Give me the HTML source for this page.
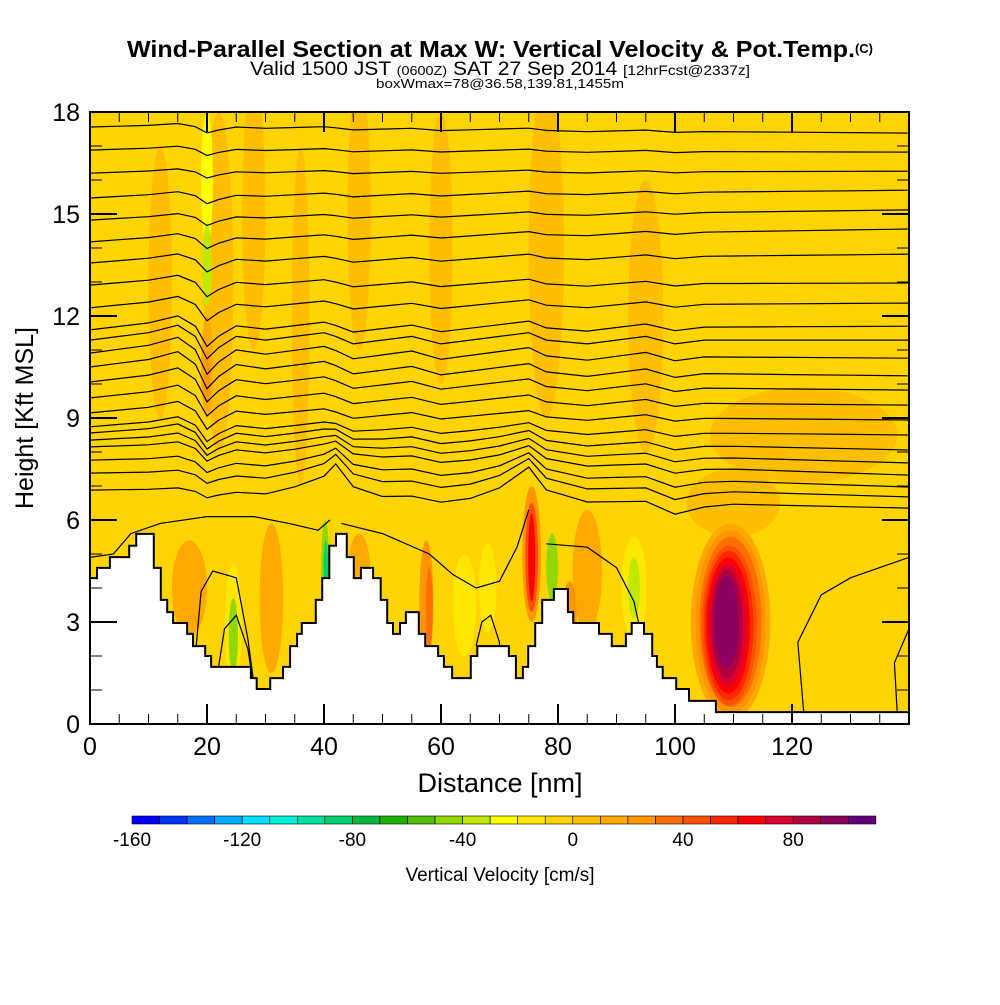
<!DOCTYPE html>
<html><head><meta charset="utf-8">
<style>
html,body{margin:0;padding:0;background:#fff;}
body{width:1000px;height:1000px;overflow:hidden;font-family:"Liberation Sans",sans-serif;}
svg text{font-family:"Liberation Sans",sans-serif;}
</style></head>
<body>
<svg id="chart" width="1000" height="1000" viewBox="0 0 1000 1000">
<g>
<text x="127" y="57" font-size="23" font-weight="bold" textLength="728" lengthAdjust="spacingAndGlyphs">Wind-Parallel Section at Max W: Vertical Velocity &amp; Pot.Temp.</text>
<text x="864" y="53" text-anchor="middle" font-size="13" font-weight="bold">(C)</text>
<text x="250" y="75" font-size="19" textLength="500" lengthAdjust="spacingAndGlyphs">Valid 1500 JST <tspan font-size="13">(0600Z)</tspan> SAT 27 Sep 2014 <tspan font-size="14">[12hrFcst@2337z]</tspan></text>
<text x="376" y="88" font-size="13" textLength="248" lengthAdjust="spacingAndGlyphs">boxWmax=78@36.58,139.81,1455m</text>
</g>
<defs><clipPath id="plotclip"><rect x="90" y="112" width="819" height="612"/></clipPath></defs>
<g id="plot" clip-path="url(#plotclip)"></g>
<g id="axes"></g>
<g id="cbar"></g>
</svg>
<script>
const NS="http://www.w3.org/2000/svg";
// ---- data ----
const xMin=0,xMax=140,yMin=0,yMax=18;
const xTicks=[0,20,40,60,80,100,120];
const yTicks=[0,3,6,9,12,15,18];
const cbLevels=[-160,-150,-140,-130,-120,-110,-100,-90,-80,-70,-60,-50,-40,-30,-20,-10,0,10,20,30,40,50,60,70,80,90,100,110];
const cbColors=["#0000ff","#0034ff","#0070ff","#00aaff","#00e0ff","#00f0d8","#00e0a0","#00d070","#00b840","#20b000","#50c000","#90d800","#c0e800","#ffff00","#ffe800","#ffd400","#ffbe00","#ffa800","#ff9600","#ff6e00","#ff5000","#ff2800","#ff0000","#dc0030","#b00040","#8c0060","#640080"];
const cbTickLabels=[-160,-120,-80,-40,0,40,80];
const bgValue=-5;
// terrain steps: start distance (nm), height (kft)
const terrX=[0,1.2,3.4,6.7,7.9,10.9,12.1,13.2,14.2,16.6,17.6,19.7,20.7,27.5,28.5,30.8,33.0,34.2,35.4,36.2,38.6,39.7,40.9,42.05,43.9,45.1,46.3,48.4,49.7,50.8,51.8,53.0,54.0,56.2,57.3,59.5,60.5,61.9,65.1,66.2,70.1,71.6,72.8,74.0,74.9,76.1,77.3,79.3,81.7,82.6,87.0,89.2,91.6,92.6,94.7,96.1,96.9,97.9,100.2,102.4,107.0];
const terrH=[4.29,4.59,4.91,5.24,5.59,4.59,3.65,3.29,2.97,2.65,2.29,2.0,1.68,1.35,1.03,1.35,1.68,2.29,2.65,2.97,3.65,4.29,5.24,5.59,4.91,4.29,4.59,4.29,3.65,2.97,2.65,2.97,3.29,2.65,2.29,2.0,1.68,1.35,2.0,2.29,2.29,2.0,1.35,1.68,2.29,2.97,3.65,3.97,3.29,2.97,2.65,2.29,2.65,2.97,2.65,2.0,1.68,1.35,1.03,0.68,0.35];
// potential temperature contours
const thNodes=[0,5,10,15,18,20,22,25,30,35,40,42,45,50,55,60,65,70,75,78,85,90,95,100,105,110,120,130,140];
const thDip=[0,0.1,0.2,0.4,0.1,-0.5,-0.2,0.1,0,0.1,0.2,0.1,-0.1,0,0.1,-0.1,0,0.1,0.2,0,-0.1,0,0.1,-0.1,0,0,0,0,0];
const thBump=[0,0,0,0,0,0,0,0,0,0.2,0.5,0.9,0.3,0,0,-0.1,0,0.3,0.9,0.3,0,0,0,-0.3,-0.1,0,0,0,0];
const thLeft=[17.56,16.88,16.2,15.47,14.82,14.18,13.56,12.91,12.24,11.59,11.29,10.91,10.5,10.06,9.59,9.15,8.74,8.56,8.35,8.15,7.76,7.38,6.88];
const thRight=[17.38,16.82,16.26,15.7,15.12,14.56,13.82,12.97,12.38,11.7,11.29,10.76,10.24,9.82,9.38,8.94,8.5,8.06,7.68,7.32,6.97,6.68,6.35];
const thDipAmp=[0.3,0.3,0.3,0.4,0.4,0.5,0.6,0.7,0.8,1,1.1,1.2,1.2,1.1,1,0.9,0.8,0.8,0.7,0.6,0.5,0.4,0.3];
const thBumpAmp=[0,0,0,0,0,0,0,0,0,0,0,0,0,0,0,0,0.1,0.2,0.3,0.4,0.6,0.8,1];
// lower contour fragments [nm,kft]
const lowCurves=[
 [[0,4.9],[4,5.0],[7,5.6],[12,5.9],[20,6.1],[28,6.1],[34,5.9],[39,5.7],[41,6.0]],
 [[18,2.0],[19,3.9],[21,4.5],[25,4.3],[27,2.5],[28,1.2]],
 [[22,1.7],[23,2.8],[25,3.2],[27,2.2],[28,1.1]],
 [[43,5.9],[50,5.6],[58,5.0],[62,4.4],[66,4.0],[70,4.2],[73,5.2],[75,6.3]],
 [[66,2.3],[67,3.0],[68.5,3.2],[70,2.4],[70,1.5]],
 [[78,5.3],[85,5.2],[90,4.6],[93,3.6],[94,2.8]],
 [[122,0.35],[121,2.4],[125,3.8],[130,4.3],[140,4.9]],
 [[138,0.3],[137.5,1.8],[140,2.8]]
];
// w blobs: [cx nm, cy kft, rx nm, ry kft, w cm/s]
const blobs=[
 [22,13,2.5,5,5],[28,15,2,4,5],[12,13,2,4,5],[46,15,2,4,5],[60,14,2,4,5],[36,12,1.5,5,5],
 [78,14,3,5,5],[95,12,3,4,5],[122,8.5,16,1.4,5],[110,6.5,8,1.0,5],[20,16,1,2,-25],[20,13.5,0.8,1.2,-35],
 [20,10.5,1,1.5,15],[20,10.2,0.6,0.8,25],[17,4,3,1.4,15],[31,3.7,2,2.2,15],[46,4.3,2,1.3,15],
 [57.5,3.6,1.2,1.8,20],[58,3.4,0.6,1.2,35],[64,3.5,2,1.5,-20],[24.5,2.9,1.5,1.8,-20],[24.5,2.6,0.8,1.1,-50],
 [40.2,4.5,0.7,1.5,-50],[40.3,4.4,0.4,1.0,-90],
 [85,4.5,2.5,1.8,15],[82,3.2,1.2,1,25],[93,4,2.2,1.5,-20],[93,4,1,0.9,-40],[79,4.6,1,1,-45],[68,4,1.5,1.3,-15],
 [75.5,5.0,1.6,2.0,25],[75.5,4.9,1.1,1.6,45],[75.5,4.9,0.6,1.3,60],
 [109.5,3.0,6.8,2.9,15],[109.5,3.0,6.0,2.7,25],[109.5,3.0,5.3,2.5,35],[109.3,2.9,4.7,2.35,45],[109.2,2.9,4.2,2.2,55],[109.1,2.9,3.7,2.0,65],[109,2.9,3.2,1.8,75],[108.9,2.95,2.7,1.6,85],[108.8,3.0,2.1,1.35,95]
];
// ---- axes functions ----
const PX0=90,PX1=909,PY0=724,PY1=112;
const X=v=>PX0+(v-xMin)*5.85;
const Y=v=>PY0-(v-yMin)/(yMax-yMin)*(PY0-PY1);
function colorFor(w){for(let i=0;i<cbColors.length;i++){if(w>=cbLevels[i]&&w<cbLevels[i+1])return cbColors[i];}return w<0?cbColors[0]:cbColors[cbColors.length-1];}
function mk(tag,attrs,parent){const e=document.createElementNS(NS,tag);for(const k in attrs)e.setAttribute(k,attrs[k]);parent.appendChild(e);return e;}
const plot=document.getElementById('plot');
const axes=document.getElementById('axes');
const cbar=document.getElementById('cbar');
const bg=mk('rect',{x:PX0,y:PY1,width:PX1-PX0,height:PY0-PY1,fill:colorFor(bgValue)},plot);


blobs.forEach(b=>{
 const e=mk('ellipse',{cx:X(b[0]),cy:Y(b[1]),rx:b[2]*5.85,ry:b[3]*34,fill:colorFor(b[4])},plot);
 
 
});
for(let i=0;i<thLeft.length;i++){
 let d='';
 thNodes.forEach((x,j)=>{
  const base=thLeft[i]+(thRight[i]-thLeft[i])*(x/xMax);
  const h=base+thDip[j]*thDipAmp[i]+thBump[j]*thBumpAmp[i];
  d+=(j?'L':'M')+X(x).toFixed(1)+','+Y(h).toFixed(1);
 });
 const p=mk('path',{d:d,fill:'none',stroke:'#000','stroke-width':1.2},plot);
 
 
}
lowCurves.forEach(c=>{
 const d=c.map((pt,j)=>(j?'L':'M')+X(pt[0]).toFixed(1)+','+Y(pt[1]).toFixed(1)).join('');
 const p=mk('path',{d:d,fill:'none',stroke:'#000','stroke-width':1.2},plot);
 
 
});
let td='M'+X(0)+','+Y(0);
for(let i=0;i<terrX.length;i++){
 const x2=i+1<terrX.length?terrX[i+1]:xMax;
 td+='L'+X(terrX[i]).toFixed(1)+','+Y(terrH[i]).toFixed(1)+'L'+X(x2).toFixed(1)+','+Y(terrH[i]).toFixed(1);
}
td+='L'+X(xMax)+','+Y(0)+'Z';
const terr=mk('path',{d:td,fill:'#fff',stroke:'#000','stroke-width':2},plot);


const fr=mk('rect',{x:PX0,y:PY1,width:PX1-PX0,height:PY0-PY1,fill:'none',stroke:'#000','stroke-width':2},axes);


for(let v=yMin;v<=yMax;v++){
 const major=v%3===0, L=major?27:12;
 const t1=mk('line',{x1:PX0,x2:PX0+L,y1:Y(v),y2:Y(v),stroke:'#000','stroke-width':major?2:1},axes);
 
 
 const t2=mk('line',{x1:PX1,x2:PX1-L,y1:Y(v),y2:Y(v),stroke:'#000','stroke-width':major?2:1},axes);
 
 
}
yTicks.forEach(v=>{
 const t=mk('text',{x:80,y:Y(v)+9,'text-anchor':'end','font-size':25},axes);
 t.textContent=v;
 
 
});
for(let v=0;v<=xMax;v+=5){
 const major=v%20===0, L=major?20:10;
 const t1=mk('line',{x1:X(v),x2:X(v),y1:PY0,y2:PY0-L,stroke:'#000','stroke-width':major?2:1},axes);
 
 
 const t2=mk('line',{x1:X(v),x2:X(v),y1:PY1,y2:PY1+L,stroke:'#000','stroke-width':major?2:1},axes);
 
 
}
xTicks.forEach(v=>{
 const t=mk('text',{x:X(v),y:755,'text-anchor':'middle','font-size':25},axes);
 t.textContent=v;
 
 
});
const xt=mk('text',{x:500,y:792,'text-anchor':'middle','font-size':27},axes);
xt.textContent='Distance [nm]';


const yt=mk('text',{x:33,y:418,'text-anchor':'middle','font-size':25,transform:'rotate(-90 33 418)'},axes);
yt.textContent='Height [Kft MSL]';


const CB0=132,CBW=27.55,CBY=816,CBH=8;
const cbX=v=>CB0+(v-cbLevels[0])/10*CBW;
cbColors.forEach((c,i)=>{
 const r=mk('rect',{x:cbX(cbLevels[i]),y:CBY,width:CBW,height:CBH,fill:c,stroke:'#000','stroke-width':0.6},cbar);
 
 
});
cbTickLabels.forEach(v=>{
 const t=mk('text',{x:cbX(v),y:846,'text-anchor':'middle','font-size':19},cbar);
 t.textContent=v;
 
 
});
const ct=mk('text',{x:500,y:881,'text-anchor':'middle','font-size':19},cbar);
ct.textContent='Vertical Velocity [cm/s]';


</script>
</body></html>
